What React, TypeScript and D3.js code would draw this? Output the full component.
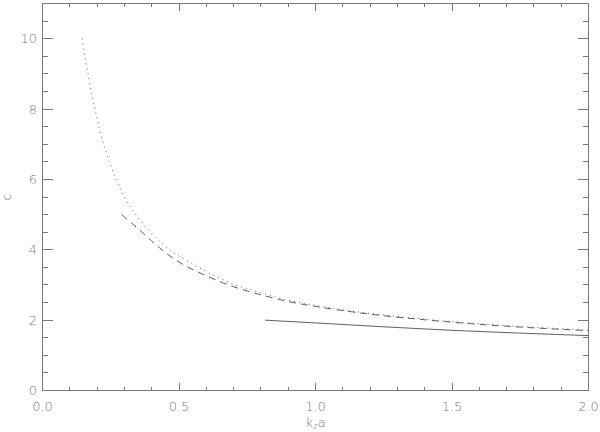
import React from "react";
import * as d3 from "d3";

const dottedX = [0.145, 0.16, 0.18, 0.2, 0.22, 0.25, 0.275, 0.3, 0.35, 0.4, 0.45, 0.5, 0.55, 0.6, 0.7, 0.8, 0.9, 1.0, 1.2, 1.4, 1.6, 1.8, 2.0];
const dottedY = [10.0, 9.3, 8.45, 7.72, 7.1, 6.4, 5.92, 5.5, 4.92, 4.47, 4.1, 3.82, 3.6, 3.38, 3.02, 2.78, 2.57, 2.42, 2.19, 2.03, 1.9, 1.8, 1.72];

const dashedX = [0.29, 0.3, 0.35, 0.4, 0.45, 0.5, 0.6, 0.7, 0.8, 0.9, 1.0, 1.2, 1.4, 1.6, 1.8, 2.0];
const dashedY = [5.0, 4.93, 4.6, 4.25, 3.92, 3.65, 3.26, 2.95, 2.72, 2.53, 2.39, 2.17, 2.01, 1.88, 1.78, 1.7];

const solidX = [0.815, 1.0, 1.25, 1.5, 1.75, 2.0];
const solidY = [2.0, 1.92, 1.81, 1.71, 1.63, 1.56];

const xMajor = [0, 0.5, 1.0, 1.5, 2.0];
const xLabels = ["0.0", "0.5", "1.0", "1.5", "2.0"];
const yMajor = [0, 2, 4, 6, 8, 10];
const yLabels = ["0", "2", "4", "6", "8", "10"];

const W = 600, H = 432;
const L = 42.5, R = 588.5, T = 3.5, B = 390.5;
const AX = "#7a7a7a";
const LINE = "#606060";
const FONT = "'DejaVu Sans', sans-serif";

export default function App() {
  const x = d3.scaleLinear().domain([0, 2]).range([L, R]);
  const y = d3.scaleLinear().domain([0, 11]).range([B, T]);
  const line = d3.line<[number, number]>().x(d => x(d[0])).y(d => y(d[1])).curve(d3.curveMonotoneX);
  const pts = (xs: number[], ys: number[]) => xs.map((v, i) => [v, ys[i]] as [number, number]);

  const xMinor = d3.range(0, 21).map(i => i * 0.1).filter(v => Math.abs(v * 2 - Math.round(v * 2)) > 1e-6);
  const yMinor = d3.range(0, 23).map(i => i * 0.5).filter(v => Math.abs(v / 2 - Math.round(v / 2)) > 1e-6);
  const xt = 7.7, xtm = 3.9, yt = 10.9, ytm = 5.5;

  return (
    <svg width={W} height={H} style={{ position: "absolute", left: 0, top: 0, background: "#fff" }}>
      <g stroke={AX} strokeWidth={1} fill="none" shapeRendering="crispEdges">
        <rect x={L} y={T} width={R - L} height={B - T} />
        {xMajor.map(v => (
          <g key={"xm" + v}>
            <line x1={x(v)} x2={x(v)} y1={B} y2={B - xt} />
            <line x1={x(v)} x2={x(v)} y1={T} y2={T + xt} />
          </g>
        ))}
        {xMinor.map(v => (
          <g key={"xn" + v}>
            <line x1={x(v)} x2={x(v)} y1={B} y2={B - xtm} />
            <line x1={x(v)} x2={x(v)} y1={T} y2={T + xtm} />
          </g>
        ))}
        {yMajor.map(v => (
          <g key={"ym" + v}>
            <line x1={L} x2={L + yt} y1={y(v)} y2={y(v)} />
            <line x1={R} x2={R - yt} y1={y(v)} y2={y(v)} />
          </g>
        ))}
        {yMinor.map(v => (
          <g key={"yn" + v}>
            <line x1={L} x2={L + ytm} y1={y(v)} y2={y(v)} />
            <line x1={R} x2={R - ytm} y1={y(v)} y2={y(v)} />
          </g>
        ))}
      </g>
      <g fill="none" stroke={LINE} strokeWidth={1}>
        <path d={line(pts(dottedX, dottedY)) || ""} strokeDasharray="1,4" />
        <path d={line(pts(dashedX, dashedY)) || ""} strokeDasharray="7,5" />
        <path d={line(pts(solidX, solidY)) || ""} />
      </g>
      <g fill={AX} fontFamily={FONT} fontSize={13} fontWeight={300}>
        {xMajor.map((v, i) => (
          <text key={"xl" + v} x={x(v)} y={411} textAnchor="middle">{xLabels[i]}</text>
        ))}
        {yMajor.map((v, i) => (
          <text key={"yl" + v} x={37} y={y(v)} dy="0.35em" textAnchor="end">{yLabels[i]}</text>
        ))}
        <text x={x(1)} y={427} textAnchor="middle">
          k<tspan fontSize={9} dy={2}>z</tspan><tspan dy={-2}>a</tspan>
        </text>
        <text transform={`translate(10.5,${(T + B) / 2}) rotate(-90)`} textAnchor="middle">c</text>
      </g>
    </svg>
  );
}
